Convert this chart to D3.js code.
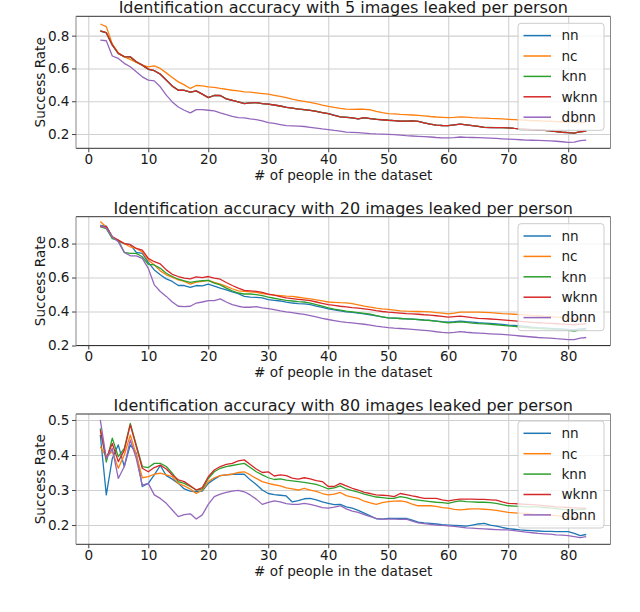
<!DOCTYPE html>
<html>
<head>
<meta charset="utf-8">
<script src="https://cdn.jsdelivr.net/npm/d3@7"></script>
<style>
  body { margin: 0; background: #fff; }
  text { font-family: "DejaVu Sans", sans-serif; fill: #1a1a1a; }
</style>
</head>
<body>
<svg id="chart" width="640" height="612"></svg>
<script>
// people in the dataset (x values)
const people = [2,3,4,5,6,7,8,9,10,11,12,13,14,15,16,17,18,19,20,21,22,23,24,25,26,27,28,29,30,
  31,32,33,34,35,36,37,38,39,40,41,42,43,44,45,46,47,48,49,50,51,52,53,54,55,56,57,58,59,60,
  61,62,63,64,65,66,67,68,69,70,71,72,73,74,75,76,77,78,79,80,81,82,83];

const methods = ["nn", "nc", "knn", "wknn", "dbnn"];
const colors = ["#1f77b4", "#ff7f0e", "#2ca02c", "#d62728", "#9467bd"];
const titles = [
  "Identification accuracy with 5 images leaked per person",
  "Identification accuracy with 20 images leaked per person",
  "Identification accuracy with 80 images leaked per person"
];
const xTicks = [0, 10, 20, 30, 40, 50, 60, 70, 80];
const yTicksA = [0.2, 0.4, 0.6, 0.8];
const yTicksB = [0.2, 0.3, 0.4, 0.5];

// 5 images leaked
const nn5 = [.828,.817,.742,.692,.671,.671,.641,.620,.595,.587,.565,.530,.493,.467,.467,.456,.463,.443,.423,.435,.434,.414,.406,.396,.387,.390,.391,.386,.382,
  .377,.371,.364,.358,.352,.349,.344,.338,.331,.324,.315,.305,.302,.298,.293,.299,.294,.290,.287,.284,.282,.278,.279,.280,.277,.268,.260,.254,.252,.251,
  .256,.260,.256,.251,.247,.241,.239,.239,.239,.238,.234,.231,.229,.227,.225,.222,.219,.215,.211,.208,.206,.214,.218];
const nc5 = [.871,.855,.750,.695,.670,.655,.637,.620,.610,.616,.600,.573,.545,.518,.500,.478,.496,.494,.488,.484,.478,.473,.467,.463,.457,.455,.451,.447,.443,
  .436,.429,.422,.413,.405,.399,.393,.386,.377,.369,.362,.356,.352,.350,.352,.351,.348,.338,.331,.325,.323,.320,.318,.316,.314,.311,.307,.304,.302,.300,
  .302,.305,.303,.300,.298,.297,.295,.294,.292,.290,.288,.286,.284,.282,.281,.279,.278,.276,.275,.273,.271,.270,.269];
const knn5 = [.829,.818,.743,.691,.672,.670,.640,.620,.596,.586,.566,.529,.492,.468,.466,.455,.462,.443,.422,.436,.435,.415,.405,.396,.386,.390,.392,.385,.382,
  .376,.371,.363,.358,.353,.348,.344,.339,.331,.324,.314,.305,.303,.298,.292,.300,.294,.291,.287,.284,.282,.279,.279,.280,.277,.268,.261,.254,.252,.251,
  .256,.261,.256,.251,.247,.241,.240,.239,.239,.238,.234,.231,.229,.227,.225,.222,.219,.215,.211,.208,.206,.214,.218];
const wknn5 = [.829,.818,.743,.692,.672,.671,.641,.620,.596,.586,.565,.529,.492,.467,.467,.455,.463,.443,.422,.435,.435,.414,.406,.396,.386,.390,.392,.386,.382,
  .377,.371,.363,.358,.352,.349,.344,.338,.331,.324,.314,.305,.302,.298,.292,.300,.294,.290,.287,.284,.282,.278,.279,.280,.277,.268,.260,.254,.252,.251,
  .256,.261,.256,.251,.247,.241,.239,.239,.239,.238,.234,.231,.229,.227,.225,.222,.219,.215,.211,.208,.206,.214,.218];
const dbnn5 = [.773,.769,.676,.661,.631,.610,.580,.549,.529,.524,.488,.437,.396,.365,.345,.329,.349,.349,.345,.341,.329,.318,.308,.300,.298,.292,.288,.280,.269,
  .265,.258,.251,.250,.248,.246,.241,.236,.231,.227,.222,.218,.212,.210,.208,.206,.203,.201,.200,.198,.196,.193,.190,.188,.186,.184,.182,.179,.177,.176,
  .178,.182,.180,.179,.178,.177,.175,.173,.171,.169,.167,.165,.163,.162,.161,.160,.158,.156,.153,.149,.151,.160,.163];

// 20 images leaked
const nn20 = [.907,.903,.839,.814,.800,.794,.748,.742,.689,.645,.616,.592,.577,.553,.553,.542,.553,.551,.561,.550,.538,.528,.515,.505,.489,.485,.483,.480,.470,
  .466,.462,.455,.450,.447,.445,.440,.432,.424,.416,.410,.404,.398,.395,.391,.386,.381,.374,.368,.363,.361,.359,.357,.355,.353,.350,.348,.344,.340,.338,
  .340,.344,.340,.337,.334,.332,.330,.327,.324,.320,.318,.315,.312,.308,.305,.303,.301,.299,.297,.295,.294,.298,.301];
const nc20 = [.930,.897,.839,.819,.800,.780,.771,.751,.703,.674,.639,.616,.602,.586,.577,.561,.573,.577,.583,.571,.561,.548,.534,.522,.518,.515,.513,.505,.501,
  .497,.494,.491,.489,.484,.479,.474,.468,.462,.456,.454,.452,.451,.446,.439,.432,.426,.420,.415,.412,.408,.404,.402,.401,.400,.399,.398,.394,.390,.386,
  .390,.396,.396,.396,.396,.395,.393,.391,.388,.386,.384,.382,.380,.377,.375,.372,.370,.367,.364,.360,.357,.355,.356];
const knn20 = [.900,.887,.829,.819,.748,.742,.742,.722,.678,.674,.654,.625,.606,.590,.581,.571,.577,.581,.583,.567,.557,.538,.522,.509,.503,.503,.499,.493,.485,
  .478,.472,.466,.462,.458,.456,.450,.441,.431,.421,.414,.408,.402,.398,.394,.389,.384,.376,.369,.363,.361,.359,.357,.355,.352,.349,.347,.343,.338,.334,
  .336,.339,.336,.332,.329,.327,.325,.322,.318,.315,.312,.309,.306,.303,.301,.298,.296,.293,.291,.289,.285,.292,.295];
const wknn20 = [.900,.900,.840,.820,.800,.794,.771,.761,.713,.693,.680,.645,.619,.606,.596,.592,.604,.600,.606,.596,.590,.571,.553,.538,.524,.522,.518,.513,.503,
  .496,.488,.480,.476,.472,.468,.464,.456,.448,.441,.436,.431,.427,.423,.420,.416,.411,.405,.400,.396,.393,.390,.387,.386,.384,.381,.379,.375,.371,.367,
  .370,.373,.369,.364,.360,.358,.356,.354,.351,.348,.345,.342,.339,.336,.334,.332,.330,.328,.326,.324,.322,.326,.328];
const dbnn20 = [.907,.891,.839,.810,.748,.728,.728,.713,.654,.557,.518,.489,.456,.431,.429,.431,.450,.456,.464,.464,.474,.456,.441,.431,.425,.425,.429,.421,.417,
  .411,.404,.398,.393,.388,.383,.376,.368,.360,.353,.347,.341,.336,.333,.329,.325,.320,.314,.309,.305,.302,.300,.298,.295,.292,.289,.286,.281,.277,.274,
  .277,.282,.278,.275,.273,.271,.269,.267,.265,.262,.259,.256,.253,.250,.247,.245,.243,.240,.238,.235,.235,.243,.247];

// 80 images leaked
const nn80 = [.457,.286,.390,.429,.367,.429,.405,.310,.319,.343,.370,.341,.331,.319,.303,.297,.295,.297,.319,.331,.341,.343,.345,.345,.345,.329,.316,.300,.290,
  .287,.285,.283,.266,.270,.275,.276,.272,.266,.262,.258,.259,.252,.248,.242,.234,.226,.218,.217,.219,.219,.219,.219,.214,.208,.206,.205,.203,.201,.200,
  .199,.198,.197,.200,.203,.205,.200,.197,.193,.190,.188,.186,.185,.184,.183,.182,.182,.181,.181,.181,.176,.170,.173];
const nc80 = [.424,.395,.410,.362,.400,.457,.400,.335,.338,.345,.348,.343,.338,.319,.312,.303,.290,.300,.324,.335,.341,.343,.345,.350,.352,.343,.333,.324,.319,
  .315,.312,.306,.303,.300,.305,.300,.296,.290,.286,.288,.293,.284,.280,.276,.268,.263,.259,.264,.267,.268,.269,.266,.260,.255,.255,.255,.253,.250,.248,
  .245,.243,.245,.246,.246,.245,.244,.242,.239,.236,.235,.234,.233,.231,.230,.229,.228,.227,.225,.224,.222,.220,.219];
const knn80 = [.476,.380,.448,.395,.419,.490,.429,.367,.364,.376,.376,.367,.348,.324,.319,.310,.300,.303,.333,.352,.362,.367,.370,.373,.376,.364,.352,.343,.335,
  .330,.332,.328,.326,.324,.322,.319,.316,.310,.303,.306,.312,.303,.298,.294,.288,.284,.280,.278,.276,.276,.281,.278,.273,.271,.269,.267,.265,.264,.262,
  .266,.269,.267,.266,.265,.265,.264,.262,.258,.255,.254,.253,.252,.252,.252,.250,.249,.247,.245,.243,.243,.244,.245];
const wknn80 = [.471,.390,.433,.381,.414,.486,.424,.362,.352,.364,.371,.360,.343,.329,.324,.312,.300,.307,.338,.357,.367,.373,.376,.383,.386,.373,.360,.350,.352,
  .340,.343,.341,.334,.331,.335,.332,.327,.324,.310,.310,.319,.312,.305,.300,.293,.290,.286,.285,.284,.281,.290,.287,.283,.280,.276,.276,.276,.272,.269,
  .272,.274,.274,.274,.273,.273,.272,.271,.266,.262,.261,.260,.259,.258,.257,.255,.254,.252,.251,.250,.249,.248,.248];
const dbnn80 = [.500,.390,.419,.333,.367,.443,.390,.314,.319,.286,.276,.262,.243,.224,.230,.232,.217,.229,.259,.281,.288,.293,.297,.299,.295,.286,.274,.259,.265,
  .269,.266,.261,.259,.259,.262,.259,.255,.250,.248,.251,.255,.246,.240,.236,.230,.224,.219,.217,.217,.217,.216,.217,.211,.206,.204,.202,.200,.199,.198,
  .196,.194,.192,.191,.190,.189,.188,.187,.186,.186,.184,.182,.180,.178,.176,.175,.174,.172,.171,.170,.167,.164,.167];

const panels = [
  { title: titles[0], series: [nn5, nc5, knn5, wknn5, dbnn5], yDomain: [0.113, 0.918], top: 16.3, bottom: 148.3, yTicks: yTicksA },
  { title: titles[1], series: [nn20, nc20, knn20, wknn20, dbnn20], yDomain: [0.2, 0.958], top: 216.7, bottom: 345.5, yTicks: yTicksA },
  { title: titles[2], series: [nn80, nc80, knn80, wknn80, dbnn80], yDomain: [0.145, 0.517], top: 414, bottom: 544.3, yTicks: yTicksB }
];

const svg = d3.select("#chart");
const left = 76, right = 610.5;
const fontTick = 13.6;

const x = d3.scaleLinear().domain([-2.05, 87.05]).range([left, right]);

panels.forEach(drawPanel);

function drawPanel(p) {
  const y = d3.scaleLinear().domain(p.yDomain).range([p.bottom, p.top]);
  const g = svg.append("g");
  const h = p.bottom - p.top;

  // grid
  g.append("g")
    .attr("transform", `translate(0,${p.bottom})`)
    .call(d3.axisBottom(x).tickValues(xTicks).tickSize(-h).tickFormat(""))
    .call((s) => s.select(".domain").remove())
    .call((s) => s.selectAll("line").attr("stroke", "#d0d0d0").attr("stroke-width", 1.1));
  g.append("g")
    .attr("transform", `translate(${left},0)`)
    .call(d3.axisLeft(y).tickValues(p.yTicks).tickSize(-(right - left)).tickFormat(""))
    .call((s) => s.select(".domain").remove())
    .call((s) => s.selectAll("line").attr("stroke", "#d0d0d0").attr("stroke-width", 1.1));

  // lines
  const line = d3.line().x((d, i) => x(people[i])).y((d) => y(d));
  g.append("g")
    .attr("fill", "none")
    .selectAll("path")
    .data(p.series)
    .join("path")
    .attr("stroke", (d, i) => colors[i])
    .attr("stroke-width", 1.3)
    .attr("stroke-linejoin", "round")
    .attr("d", line);

  // spines
  const sp = g.append("g").attr("stroke-width", 1);
  sp.append("line").attr("x1", left).attr("x2", right).attr("y1", p.top).attr("y2", p.top).attr("stroke", "#333");
  sp.append("line").attr("x1", left).attr("x2", right).attr("y1", p.bottom).attr("y2", p.bottom).attr("stroke", "#333");
  sp.append("line").attr("x1", left).attr("x2", left).attr("y1", p.top).attr("y2", p.bottom).attr("stroke", "#888");
  sp.append("line").attr("x1", right).attr("x2", right).attr("y1", p.top).attr("y2", p.bottom).attr("stroke", "#888");

  // axes
  g.append("g")
    .attr("transform", `translate(0,${p.bottom})`)
    .call(d3.axisBottom(x).tickValues(xTicks).tickSize(4).tickPadding(3))
    .call((s) => s.select(".domain").remove())
    .call((s) => s.selectAll("line").attr("stroke", "#444"))
    .call((s) => s.selectAll("text").attr("font-size", fontTick).attr("fill", "#1a1a1a")
      .attr("dy", null).attr("y", 15.8));
  g.append("g")
    .attr("transform", `translate(${left},0)`)
    .call(d3.axisLeft(y).tickValues(p.yTicks).tickFormat(d3.format(".1f")).tickSize(4).tickPadding(2.5))
    .call((s) => s.select(".domain").remove())
    .call((s) => s.selectAll("line").attr("stroke", "#444"))
    .call((s) => s.selectAll("text").attr("font-size", fontTick).attr("fill", "#1a1a1a"));

  // labels
  g.append("text")
    .attr("x", (left + right) / 2)
    .attr("y", p.top - 3)
    .attr("text-anchor", "middle")
    .attr("font-size", 16)
    .text(p.title);
  g.append("text")
    .attr("x", (left + right) / 2)
    .attr("y", p.bottom + 31.2)
    .attr("text-anchor", "middle")
    .attr("font-size", fontTick)
    .text("# of people in the dataset");
  g.append("text")
    .attr("transform", `translate(44.5,${(p.top + p.bottom) / 2}) rotate(-90)`)
    .attr("text-anchor", "middle")
    .attr("font-size", fontTick)
    .text("Success Rate");

  // legend
  const lg = g.append("g").attr("transform", `translate(518,${p.top + 7})`);
  lg.append("rect")
    .attr("width", 86)
    .attr("height", 107)
    .attr("rx", 3)
    .attr("fill", "#fff")
    .attr("fill-opacity", 0.8)
    .attr("stroke", "#cccccc");
  const item = lg.selectAll("g.item")
    .data(methods)
    .join("g")
    .attr("class", "item")
    .attr("transform", (d, i) => `translate(0,${12.3 + i * 20.4})`);
  item.append("line")
    .attr("x1", 5.5).attr("x2", 33)
    .attr("stroke", (d, i) => colors[i])
    .attr("stroke-width", 1.5);
  item.append("text")
    .attr("x", 43.5)
    .attr("y", 4.8)
    .attr("font-size", fontTick)
    .text((d) => d);
}
</script>
</body>
</html>
